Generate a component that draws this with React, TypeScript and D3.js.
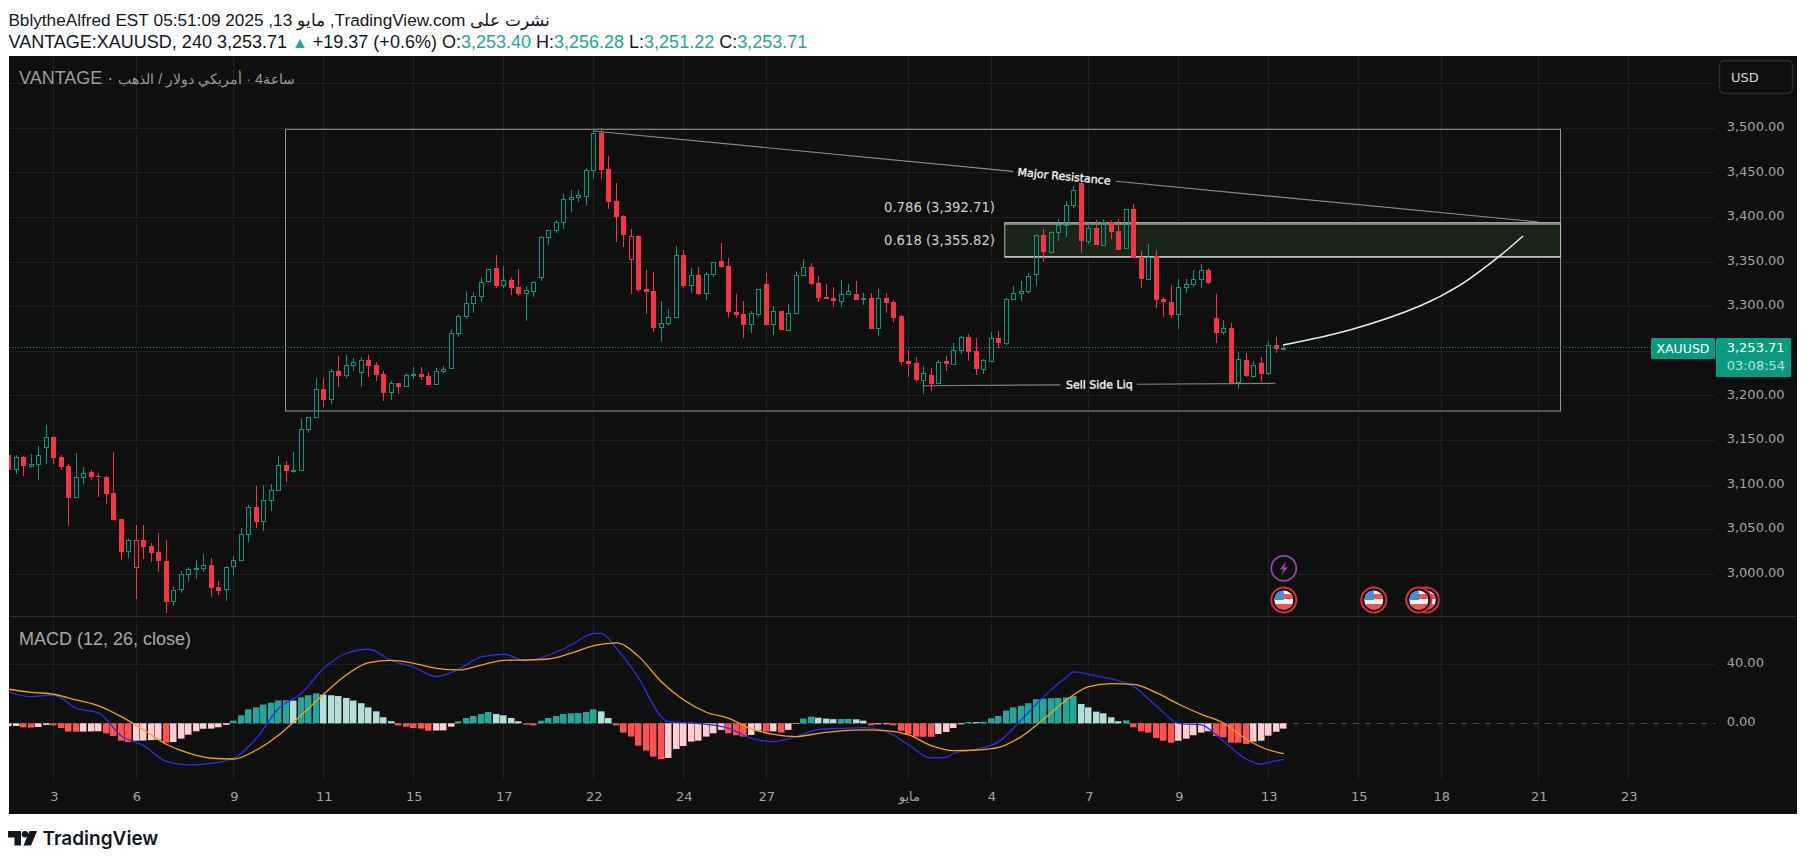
import { useEffect, useRef } from "react";
import * as d3 from "d3";

const opens = [
  3133.8,3117.3,3131.5,3121.8,3122.9,3142.0,3153.6,3131.5,3121.4,3085.9,
  3108.4,3114.7,3110.2,3109.1,3091.2,3062.0,3025.4,3007.5,3038.1,3031.8,
  3025.0,3014.9,2969.3,2982.8,2999.6,3006.3,3006.3,3010.5,2985.8,2982.8,
  3008.6,3015.3,3044.5,3075.5,3059.0,3082.6,3093.8,3122.6,3116.2,3116.2,
  3162.2,3175.6,3207.8,3195.8,3227.9,3222.7,3233.9,3226.1,3240.3,3234.7,
  3224.6,3203.7,3214.5,3210.4,3223.8,3224.6,3222.3,3212.6,3227.2,3230.5,
  3269.8,3288.8,3303.4,3311.2,3328.1,3343.4,3323.6,3329.9,3322.1,3314.6,
  3317.6,3332.5,3377.4,3385.2,3394.2,3420.0,3422.2,3423.3,3452.5,3494.7,
  3454.4,3418.5,3401.7,3352.7,3379.3,3319.8,3317.6,3276.5,3281.0,3287.7,
  3358.0,3323.6,3335.5,3314.6,3335.9,3351.3,3345.7,3294.1,3291.9,3279.9,
  3291.9,3325.5,3279.9,3295.2,3273.9,3292.2,3334.8,3344.5,3326.6,3310.9,
  3309.8,3306.4,3313.5,3314.3,3308.3,3309.8,3275.4,3309.8,3305.3,3289.6,
  3239.2,3236.9,3217.9,3223.5,3213.7,3239.2,3235.8,3250.7,3266.1,3250.4,
  3230.2,3239.2,3264.9,3259.3,3307.9,3314.6,3316.9,3335.9,3380.4,3361.4,
  3383.0,3390.9,3413.3,3438.7,3373.7,3388.3,3369.2,3395.0,3384.9,3365.8,
  3409.6,3355.8,3331.5,3356.9,3308.7,3305.3,3291.1,3321.7,3325.1,3330.7,
  3341.2,3287.4,3270.9,3276.2,3214.9,3240.3,3222.3,3236.9,3225.0,3257.1,3253.4,
];
const highs = [
  3133.8,3133.8,3132.7,3134.9,3143.9,3167.4,3154.7,3133.8,3123.7,3136.0,
  3120.3,3117.0,3113.6,3110.2,3137.1,3062.0,3040.3,3055.3,3055.3,3035.1,
  3046.3,3038.5,2985.8,3003.7,3008.2,3016.1,3022.8,3018.3,2992.5,3009.3,
  3020.5,3051.9,3077.7,3099.0,3100.1,3101.3,3132.7,3127.0,3137.1,3175.3,
  3176.0,3220.1,3220.1,3230.2,3244.8,3245.9,3242.5,3243.6,3245.9,3238.0,
  3227.9,3216.7,3214.5,3225.7,3232.4,3232.4,3226.8,3231.3,3233.6,3274.6,
  3291.4,3317.2,3316.1,3332.9,3341.9,3358.0,3345.6,3332.9,3342.3,3322.8,
  3328.4,3379.3,3385.6,3397.2,3427.1,3430.8,3430.8,3455.1,3498.1,3500.3,
  3468.9,3438.7,3402.8,3387.1,3380.4,3341.1,3338.9,3306.4,3297.4,3368.0,
  3363.6,3343.4,3344.5,3338.9,3349.8,3371.4,3354.6,3314.3,3306.4,3295.2,
  3319.5,3337.8,3300.8,3295.2,3303.1,3339.7,3353.5,3349.0,3334.5,3325.5,
  3322.1,3330.0,3325.5,3328.8,3315.4,3315.4,3319.9,3315.4,3307.5,3290.7,
  3251.5,3243.6,3233.6,3231.3,3240.3,3244.8,3259.3,3267.2,3269.4,3264.9,
  3241.4,3271.7,3272.8,3309.8,3323.2,3328.8,3337.8,3381.5,3387.1,3384.9,
  3398.4,3418.5,3435.4,3439.8,3393.9,3397.2,3398.0,3396.9,3398.4,3409.2,
  3415.2,3362.5,3370.3,3363.6,3310.9,3324.4,3331.1,3331.1,3341.2,3347.9,
  3343.4,3314.3,3285.1,3281.8,3249.2,3248.1,3239.2,3243.6,3260.5,3266.1,3256.28,
];
const lows = [
  3117.0,3112.5,3110.2,3119.6,3105.7,3123.7,3123.7,3117.0,3054.2,3085.9,
  3101.3,3105.7,3086.7,3078.8,3059.8,3016.1,3018.3,2972.3,3017.2,3013.8,
  3002.6,2956.6,2964.5,2979.1,2991.4,2994.8,3002.6,2974.6,2976.8,2970.1,
  2999.2,3015.3,3036.2,3051.9,3048.6,3071.0,3093.8,3103.5,3113.6,3116.2,
  3158.4,3175.6,3187.6,3190.9,3210.0,3220.1,3227.9,3210.0,3221.2,3216.7,
  3194.3,3195.4,3202.2,3210.4,3219.0,3217.9,3212.3,3212.6,3225.7,3230.5,
  3266.0,3286.2,3292.9,3305.3,3326.6,3321.0,3321.0,3313.1,3312.0,3284.0,
  3310.9,3328.8,3369.2,3382.6,3387.1,3406.2,3417.4,3412.9,3443.2,3443.2,
  3409.5,3372.5,3366.9,3314.2,3316.5,3291.8,3271.6,3260.4,3278.4,3287.7,
  3321.0,3315.4,3313.1,3307.5,3333.3,3343.4,3287.4,3287.4,3264.9,3270.6,
  3288.5,3279.5,3268.3,3273.9,3272.8,3292.2,3334.8,3324.4,3305.3,3308.7,
  3299.7,3299.7,3313.5,3307.5,3301.9,3275.0,3267.2,3293.0,3282.9,3234.7,
  3221.2,3215.6,3202.2,3205.5,3213.7,3227.9,3235.8,3247.0,3239.2,3223.5,
  3224.6,3238.0,3253.7,3257.1,3307.9,3306.4,3314.3,3323.2,3350.1,3359.1,
  3373.7,3378.2,3410.7,3360.2,3370.3,3369.2,3369.2,3375.9,3363.6,3364.7,
  3354.6,3321.0,3331.5,3298.6,3288.5,3287.4,3275.0,3315.4,3322.1,3321.0,
  3325.5,3259.3,3268.3,3213.4,3207.8,3221.2,3220.1,3215.6,3223.5,3248.1,3251.22,
];
const closes = [
  3117.0,3131.2,3121.4,3123.7,3133.4,3153.6,3130.4,3120.3,3085.6,3108.7,
  3113.2,3109.1,3109.1,3090.1,3060.9,3025.0,3038.1,3038.1,3030.6,3023.9,
  3014.9,2969.0,2982.1,3000.0,3005.6,3006.7,3010.1,2984.7,2981.3,3007.8,
  3015.7,3044.8,3075.1,3058.7,3083.0,3094.2,3122.2,3115.8,3116.6,3162.5,
  3176.0,3207.4,3195.4,3227.6,3222.3,3234.3,3237.7,3239.9,3233.6,3223.5,
  3203.3,3214.1,3210.0,3223.1,3224.2,3221.2,3212.3,3227.6,3229.8,3270.1,
  3289.2,3303.8,3311.6,3327.3,3341.9,3323.2,3329.6,3321.0,3314.2,3318.3,
  3327.3,3377.8,3385.6,3394.6,3420.4,3422.6,3424.8,3452.9,3494.4,3453.2,
  3417.4,3400.6,3380.4,3378.9,3318.7,3316.5,3276.1,3281.3,3288.1,3357.6,
  3323.2,3335.2,3314.2,3336.3,3349.8,3344.5,3294.1,3290.7,3279.5,3292.6,
  3319.5,3279.5,3294.8,3273.9,3292.6,3335.2,3344.2,3325.5,3309.8,3308.7,
  3306.4,3313.9,3317.3,3307.5,3309.4,3275.0,3309.4,3304.2,3287.4,3238.0,
  3235.8,3217.9,3225.3,3213.4,3237.7,3235.8,3251.1,3265.7,3249.2,3230.2,
  3239.9,3264.6,3259.3,3308.3,3315.0,3317.3,3334.1,3380.0,3361.4,3383.4,
  3391.3,3413.7,3430.5,3373.7,3387.9,3369.2,3394.6,3383.8,3363.6,3409.2,
  3354.6,3331.1,3356.1,3307.5,3305.3,3290.7,3321.7,3325.1,3330.7,3340.8,
  3326.6,3270.6,3275.8,3214.5,3241.0,3222.3,3234.3,3224.6,3256.7,3252.6,3253.71,
];
// up bars that still closed under the previous close
const hollowRed = [17, 83];

const histogram = [
  -1.9,-1.8,-2.7,-2.9,-2.5,-1.1,-1.4,-3.2,-5.6,-5.7,
  -5.6,-5.5,-5.4,-6.8,-8.6,-11.8,-12.7,-11.8,-11.7,-11.4,
  -11.2,-13.1,-12.7,-10.4,-7.7,-5.4,-3.7,-3.6,-2.7,-1.1,
  1.8,5.4,9.5,10.8,12.7,14.0,15.5,15.6,15.4,17.6,
  19.0,20.3,19.4,19.0,18.5,17.2,15.4,13.6,10.8,8.1,
  4.1,1.4,-1.4,-2.3,-3.2,-3.6,-5.0,-4.9,-4.8,-2.3,
  1.4,3.6,5.0,6.3,7.7,6.3,5.4,3.6,1.4,-0.9,
  -1.4,1.8,3.6,5.0,6.3,6.8,6.9,7.7,9.5,8.1,
  3.6,-1.4,-6.3,-9.0,-15.1,-18.5,-22.6,-24.2,-23.5,-17.4,
  -15.4,-12.4,-11.8,-9.0,-6.8,-4.5,-6.8,-8.1,-9.0,-7.9,
  -5.0,-5.6,-5.4,-6.3,-4.5,-0.4,3.2,4.5,3.8,3.2,
  2.8,2.9,3.0,2.7,1.8,-1.4,-0.7,-0.6,-1.4,-5.0,
  -7.2,-9.0,-9.1,-9.2,-7.2,-5.9,-3.2,-0.7,0.9,0.8,
  1.1,3.4,5.0,8.6,10.8,11.8,13.6,16.3,16.7,17.0,
  17.2,17.6,18.5,13.1,10.8,7.9,6.8,4.1,1.4,2.0,
  -2.7,-5.4,-6.3,-9.9,-11.8,-13.1,-11.8,-10.4,-8.1,-6.3,
  -5.4,-8.6,-9.5,-13.1,-13.2,-14.0,-12.4,-11.8,-8.4,-5.7,-3.6,
];

// MACD read every third bar, plus the bars where it turns
const macdBars = [
  0,3,6,9,12,15,18,21,24,27,30,33,36,39,42,45,48,51,54,57,60,63,66,69,72,75,78,79,81,84,87,88,90,
  93,96,99,102,105,108,111,114,117,120,123,125,126,129,132,135,138,141,142,144,147,150,153,156,159,162,165,167,168,170,
];
const macdLine = [
  21.2,18.1,19.2,10.2,7.0,-8.6,-15.1,-25.8,-28.2,-27.1,-23.7,-10.2,10.2,20.3,37.3,47.5,50.2,42.5,38.0,31.6,
  36.8,45.0,46.8,42.3,46.3,53.1,61.0,61.0,50.8,30.5,4.5,1.1,0.5,-0.7,-3.4,-10.2,-12.4,-9.0,-4.1,-3.4,-2.9,-5.6,
  -14.7,-23.5,-23.1,-20.3,-17.6,-12.4,2.3,18.1,31.2,34.8,33.2,30.1,24.9,11.8,0,-1.1,-12.4,-24.2,-27.7,-26.4,-24.4,
];
const signalBars = [...d3.range(0, 169, 3), 170];
const signalLine = [
  23.1,21.0,19.7,15.8,11.8,4.5,-4.5,-14.2,-20.3,-23.7,-24.2,-18.1,-7.9,5.6,19.9,32.8,41.1,42.7,40.7,37.3,
  36.2,39.5,42.7,42.9,43.6,47.5,52.7,54.5,45.2,28.2,15.8,7.5,3.4,-3.8,-7.5,-9.0,-6.8,-5.2,-4.5,-5.0,
  -7.9,-15.1,-18.5,-18.1,-16.3,-9.0,2.9,15.8,24.9,26.9,26.4,20.8,12.9,6.1,0,-10.8,-18.1,-20.6,
];

const priceTicks = [3000, 3050, 3100, 3150, 3200, 3250, 3300, 3350, 3400, 3450, 3500, 3550];
const priceLabels = [3000, 3050, 3100, 3150, 3200, 3250, 3300, 3350, 3400, 3450, 3500];
const macdTicks = [0, 40];
const timeBars = [6, 17, 30, 42, 54, 66, 78, 90, 101, 120, 131, 144, 156, 168, 180, 191, 204, 216];
const timeLabels = ["3", "6", "9", "11", "15", "17", "22", "24", "27", "مايو", "4", "7", "9", "13", "15", "18", "21", "23"];

const lastPrice = 3253.71;
const boxBars = [36.9, 206.9];
const boxPrices = [3498.9, 3183.1];
const zoneBars = [132.8, 206.9];
const zonePrices = [3394.2, 3392.71, 3355.82];
const resistanceParts = [
  [[77.9, 3497.0], [133.9, 3451.7]],
  [[147.6, 3440.6], [203.9, 3395.0]],
];
const resistanceLabelAt = [140.7, 3446.2];
const sellSideParts = [
  [[121.8, 3211.4], [140.2, 3212.4]],
  [[150.4, 3213.0], [168.9, 3214.1]],
];
const sellSideLabelAt = [145.4, 3212.7];
const projection = [
  [169.9, 3257.1], [178.8, 3273.9], [188.2, 3301.1], [193.5, 3324.3], [198.6, 3355.7], [201.9, 3379.3],
];
const flagBars = [189, 188, 182, 170];
const boltBar = 170;

const green = "#089981";
const red = "#f23645";
const bg = "#0f0f0f";
const grid = "#1f1f1f";
const axisText = "#a3a3a3";
const uiFont = "'DejaVu Sans', sans-serif";
const headFont = "'Liberation Sans', Arial, sans-serif";

export default function App() {
  const svgRef = useRef<SVGSVGElement>(null);

  useEffect(() => {
    if (!svgRef.current) return;
    const svg = d3.select(svgRef.current);
    svg.selectAll("*").remove();

    const left = 9;
    const right = 1797;
    const top = 56;
    const bottom = 814;
    const plotRight = 1715;
    const sep = 616;
    const plotBottom = 780;

    const x = d3.scaleLinear().domain([0, 170]).range([8.8, 1283.8]);
    const y = d3.scaleLinear().domain([3000, 3500]).range([574.3, 128.3]);
    const my = d3.scaleLinear().domain([0, 40]).range([723.3, 664.3]);
    const snap = (v: number) => Math.floor(v) + 0.5;

    const defs = svg.append("defs");
    defs.append("clipPath").attr("id", "plot").append("rect")
      .attr("x", left).attr("y", top).attr("width", plotRight - left).attr("height", plotBottom - top);

    svg.append("rect").attr("width", 1806).attr("height", 862).attr("fill", "#fff");
    svg.append("rect").attr("x", left).attr("y", top).attr("width", right - left).attr("height", bottom - top).attr("fill", bg);

    // Grid
    const gridG = svg.append("g").attr("stroke", grid).attr("stroke-width", 1);
    timeBars.forEach((b) => {
      gridG.append("line").attr("x1", snap(x(b))).attr("x2", snap(x(b))).attr("y1", top).attr("y2", plotBottom);
    });
    priceTicks.forEach((p) => {
      gridG.append("line").attr("x1", left).attr("x2", plotRight).attr("y1", snap(y(p))).attr("y2", snap(y(p)));
    });
    gridG.append("line").attr("x1", left).attr("x2", plotRight).attr("y1", snap(my(40))).attr("y2", snap(my(40)));

    svg.append("line").attr("x1", left).attr("x2", right).attr("y1", sep + 0.5).attr("y2", sep + 0.5).attr("stroke", "#2e2e2e");
    svg.append("line").attr("x1", left).attr("x2", plotRight).attr("y1", snap(my(0))).attr("y2", snap(my(0)))
      .attr("stroke", "#4a4a4a").attr("stroke-dasharray", "6,6");

    const plot = svg.append("g").attr("clip-path", "url(#plot)");

    // Drawings behind the candles
    plot.append("rect")
      .attr("x", x(boxBars[0])).attr("y", y(boxPrices[0]))
      .attr("width", x(boxBars[1]) - x(boxBars[0])).attr("height", y(boxPrices[1]) - y(boxPrices[0]))
      .attr("fill", "none").attr("stroke", "#9a9a9a").attr("stroke-width", 1);
    plot.append("rect")
      .attr("x", x(zoneBars[0])).attr("y", y(zonePrices[0]))
      .attr("width", x(zoneBars[1]) - x(zoneBars[0])).attr("height", y(zonePrices[2]) - y(zonePrices[0]))
      .attr("fill", "#1b2419").attr("stroke", "#b8bab4").attr("stroke-width", 1);
    zonePrices.slice(1).forEach((p) => {
      plot.append("line").attr("x1", x(zoneBars[0])).attr("x2", x(zoneBars[1])).attr("y1", y(p)).attr("y2", y(p))
        .attr("stroke", "#d6d8d2").attr("stroke-width", 1.2);
    });

    // Candles
    const bars = d3.range(opens.length);
    const candle = plot.append("g").selectAll("g").data(bars).join("g");
    const isUp = (i: number) => closes[i] >= opens[i];
    const colorOf = (i: number) => (isUp(i) && !hollowRed.includes(i) ? green : red);
    const topOf = (i: number) => y(Math.max(opens[i], closes[i]));
    const botOf = (i: number) => y(Math.min(opens[i], closes[i]));

    candle.append("line")
      .attr("x1", (i) => snap(x(i))).attr("x2", (i) => snap(x(i)))
      .attr("y1", (i) => y(highs[i])).attr("y2", (i) => topOf(i))
      .attr("stroke", colorOf);
    candle.append("line")
      .attr("x1", (i) => snap(x(i))).attr("x2", (i) => snap(x(i)))
      .attr("y1", (i) => botOf(i)).attr("y2", (i) => y(lows[i]))
      .attr("stroke", colorOf);
    candle.append("rect")
      .attr("x", (i) => (isUp(i) ? snap(x(i)) - 2 : snap(x(i)) - 2.5))
      .attr("width", (i) => (isUp(i) ? 4 : 5))
      .attr("y", (i) => (isUp(i) ? Math.round(topOf(i)) + 0.5 : Math.round(topOf(i))))
      .attr("height", (i) => Math.max(1, Math.round(botOf(i) - topOf(i))))
      .attr("fill", (i) => (isUp(i) ? "none" : colorOf(i)))
      .attr("stroke", (i) => (isUp(i) ? colorOf(i) : "none"))
      .attr("stroke-width", 1);

    // Last price line
    plot.append("line")
      .attr("x1", left).attr("x2", plotRight).attr("y1", snap(y(lastPrice))).attr("y2", snap(y(lastPrice)))
      .attr("stroke", green).attr("stroke-dasharray", "1,2");

    // Drawings in front of the candles
    const segLine = d3.line<number[]>().x((d) => x(d[0])).y((d) => y(d[1]));
    resistanceParts.forEach((part) => {
      plot.append("path").attr("d", segLine(part)).attr("fill", "none").attr("stroke", "#8c8c8c").attr("stroke-width", 1.1);
    });
    sellSideParts.forEach((part) => {
      plot.append("path").attr("d", segLine(part)).attr("fill", "none").attr("stroke", "#808080").attr("stroke-width", 1.1);
    });
    plot.append("path")
      .attr("d", segLine.curve(d3.curveCatmullRom.alpha(0.5))(projection))
      .attr("fill", "none").attr("stroke", "#ececec").attr("stroke-width", 1.5);

    const slope =
      (Math.atan2(y(3395.0) - y(3497.0), x(203.9) - x(77.9)) * 180) / Math.PI;
    const rx = x(resistanceLabelAt[0]);
    const ry = y(resistanceLabelAt[1]);
    svg.append("text").text("Major Resistance")
      .attr("x", rx).attr("y", ry).attr("dy", "0.35em")
      .attr("transform", `rotate(${slope},${rx},${ry})`)
      .attr("text-anchor", "middle").attr("fill", "#f6f6f6")
      .attr("stroke", "#f6f6f6").attr("stroke-width", 0.35)
      .style("font", `11px ${uiFont}`);
    const sx = x(sellSideLabelAt[0]);
    const sy = y(sellSideLabelAt[1]);
    svg.append("text").text("Sell Side Liq")
      .attr("x", sx).attr("y", sy).attr("dy", "0.35em")
      .attr("transform", `rotate(-0.4,${sx},${sy})`)
      .attr("text-anchor", "middle").attr("fill", "#f6f6f6")
      .attr("stroke", "#f6f6f6").attr("stroke-width", 0.35)
      .style("font", `11px ${uiFont}`);

    // Fib labels
    const fibEnd = 995;
    [
      { text: "0.786 (3,392.71)", at: 207.7 },
      { text: "0.618 (3,355.82)", at: 240.7 },
    ].forEach((d) => {
      svg.append("text").text(d.text).attr("x", fibEnd).attr("y", d.at).attr("dy", "0.35em")
        .attr("text-anchor", "end").attr("fill", "#cfcfcf").style("font", `13.2px ${uiFont}`);
    });

    // MACD histogram
    const histColor = (i: number) => {
      const v = histogram[i];
      const rising = i === 0 || v >= histogram[i - 1];
      if (v >= 0) return rising ? "#26a69a" : "#b2dfdb";
      return rising ? "#ffcdd2" : "#ff5252";
    };
    plot.append("g").selectAll("rect").data(bars).join("rect")
      .attr("x", (i) => snap(x(i)) - 3.5)
      .attr("width", 6.5)
      .attr("y", (i) => Math.min(my(histogram[i]), my(0)))
      .attr("height", (i) => Math.abs(my(histogram[i]) - my(0)))
      .attr("fill", histColor);

    const seriesPath = (xs: number[]) =>
      d3.line<number>()
        .x((_, i) => x(xs[i]))
        .y((d) => my(d))
        .curve(d3.curveMonotoneX);
    plot.append("path").attr("d", seriesPath(macdBars)(macdLine))
      .attr("fill", "none").attr("stroke", "#2d2ee8").attr("stroke-width", 1.3);
    plot.append("path").attr("d", seriesPath(signalBars)(signalLine))
      .attr("fill", "none").attr("stroke", "#f5a30f").attr("stroke-width", 1.3);

    // Axes
    const priceAxis = d3.axisRight(y).tickValues(priceLabels).tickSize(0).tickPadding(0)
      .tickFormat((d) => d3.format(",.2f")(d as number));
    const macdAxis = d3.axisRight(my).tickValues(macdTicks).tickSize(0).tickPadding(0)
      .tickFormat((d) => d3.format(".2f")(d as number));
    const timeAxis = d3.axisBottom(x).tickValues(timeBars).tickSize(0).tickPadding(0)
      .tickFormat((_, i) => timeLabels[i]);

    const styleAxis = (g: d3.Selection<SVGGElement, unknown, null, undefined>) => {
      g.select(".domain").remove();
      g.selectAll("text").attr("fill", axisText).style("font", `13px ${uiFont}`);
    };
    svg.append("g").attr("transform", "translate(1726.7,-2)").call(priceAxis).call(styleAxis);
    svg.append("g").attr("transform", "translate(1726.7,-2)").call(macdAxis).call(styleAxis);
    svg.append("g").attr("transform", "translate(0,792)").call(timeAxis).call(styleAxis);

    // USD button
    svg.append("rect").attr("x", 1719.5).attr("y", 60.5).attr("width", 73).attr("height", 33).attr("rx", 5)
      .attr("fill", "none").attr("stroke", "#2c2c2c").attr("stroke-width", 1.5);
    svg.append("text").text("USD").attr("x", 1731).attr("y", 77).attr("dy", "0.35em").attr("fill", "#d8d8d8")
      .style("font", `13px ${uiFont}`);

    // Price tags
    svg.append("rect").attr("x", 1651).attr("y", 338).attr("width", 64).attr("height", 21).attr("rx", 1.5).attr("fill", "#0a9a80");
    svg.append("text").text("XAUUSD").attr("x", 1683).attr("y", 348.5).attr("dy", "0.35em").attr("text-anchor", "middle")
      .attr("fill", "#fff").style("font", `12.5px ${uiFont}`);
    svg.append("rect").attr("x", 1716).attr("y", 338).attr("width", 75).attr("height", 39).attr("rx", 1.5).attr("fill", "#0a9a80");
    svg.append("text").text(d3.format(",.2f")(lastPrice)).attr("x", 1726.7).attr("y", 347.7).attr("dy", "0.35em")
      .attr("fill", "#fff").style("font", `13px ${uiFont}`);
    svg.append("text").text("03:08:54").attr("x", 1726.7).attr("y", 365.7).attr("dy", "0.35em")
      .attr("fill", "#b5e3d9").style("font", `13px ${uiFont}`);

    // Pane titles
    const pane = svg.append("text").attr("x", 19).attr("y", 78).attr("dy", "0.35em").attr("fill", "#9c9c9c")
      .style("font", `18px ${headFont}`);
    pane.append("tspan").text("VANTAGE · ");
    pane.append("tspan").text("\u200Eالذهب\u200E / \u200Eدولار\u200E \u200Eأمريكي\u200E · 4ساعة").style("font-size", "14.3px");
    svg.append("text").text("MACD (12, 26, close)")
      .attr("x", 19).attr("y", 639).attr("dy", "0.35em").attr("fill", "#a8a8a8")
      .style("font", `18px ${headFont}`);

    // Header
    svg.append("text").text("نشرت على TradingView.com, مايو 13, 2025 05:51:09 BblytheAlfred EST")
      .attr("x", 550).attr("y", 20).attr("dy", "0.35em").attr("fill", "#131722")
      .attr("direction", "rtl").attr("text-anchor", "start")
      .style("font", `17.2px ${headFont}`);
    const head = svg.append("text").attr("x", 8.5).attr("y", 42).attr("dy", "0.35em").attr("fill", "#131722")
      .style("font", `18px ${headFont}`);
    head.append("tspan").text("VANTAGE:XAUUSD, 240 3,253.71 ");
    head.append("tspan").text("▲").attr("fill", "#26a69a").style("font-size", "16px");
    head.append("tspan").text(" +19.37 (+0.6%) O:");
    head.append("tspan").text("3,253.40").attr("fill", "#26a69a");
    head.append("tspan").text(" H:");
    head.append("tspan").text("3,256.28").attr("fill", "#26a69a");
    head.append("tspan").text(" L:");
    head.append("tspan").text("3,251.22").attr("fill", "#26a69a");
    head.append("tspan").text(" C:");
    head.append("tspan").text("3,253.71").attr("fill", "#26a69a");

    // Event markers
    const markerY = 600;
    const bolt = svg.append("g").attr("transform", `translate(${x(boltBar)},568.3)`);
    bolt.append("circle").attr("r", 12.5).attr("fill", bg).attr("stroke", "#9c3fae").attr("stroke-width", 1.8);
    bolt.append("path").attr("d", "M2.5,-7 L-4,1 L-0.5,1 L-2.5,7 L4,-1 L0.5,-1 Z").attr("fill", "#9c3fae");

    flagBars.forEach((b, n) => {
      const g = svg.append("g").attr("transform", `translate(${x(b)},${markerY})`);
      const clipId = `flag-${n}`;
      g.append("clipPath").attr("id", clipId).append("circle").attr("r", 9.5);
      g.append("circle").attr("r", 12.5).attr("fill", bg).attr("stroke", "#dc2f3d").attr("stroke-width", 2);
      const f = g.append("g").attr("clip-path", `url(#${clipId})`);
      f.append("rect").attr("x", -10).attr("y", -10).attr("width", 20).attr("height", 20).attr("fill", "#f5f5f5");
      f.append("rect").attr("x", -10).attr("y", -6).attr("width", 20).attr("height", 5).attr("fill", "#ef5350");
      f.append("rect").attr("x", -10).attr("y", 4).attr("width", 20).attr("height", 6).attr("fill", "#ef5350");
      f.append("rect").attr("x", -10).attr("y", -10).attr("width", 10).attr("height", 10).attr("fill", "#3f8fe0");
    });

    // Brand
    svg.append("path").attr("d", "M8,831 H21 V845.5 H14.5 V837.5 H8 Z M37,831 L31,845.5 H23.5 L29.5,831 Z").attr("fill", "#131722");
    svg.append("circle").attr("cx", 25).attr("cy", 834.3).attr("r", 3.3).attr("fill", "#131722");
    svg.append("text").text("TradingView").attr("x", 42.5).attr("y", 838).attr("dy", "0.35em").attr("fill", "#131722")
      .style("font", `600 19px Inter, ${headFont}`);
  }, []);

  return (
    <svg
      ref={svgRef}
      width={1806}
      height={862}
      style={{ position: "absolute", left: 0, top: 0, display: "block" }}
    />
  );
}
